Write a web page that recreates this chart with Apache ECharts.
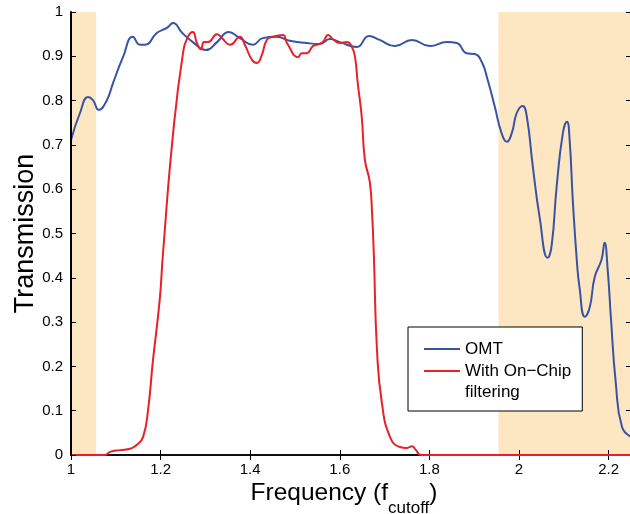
<!DOCTYPE html>
<html>
<head>
<meta charset="utf-8">
<script src="https://cdn.jsdelivr.net/npm/echarts@6/dist/echarts.min.js"></script>
<style>
  html, body { margin: 0; padding: 0; background: #fff; }
  #chart { width: 630px; height: 514px; }
</style>
</head>
<body>
<div id="chart"></div>
<script>
// OMT 透射曲线
const omtFreq = [1.000, 1.020, 1.038, 1.049, 1.062, 1.080, 1.094, 1.116, 1.138, 1.154, 1.165, 1.192, 1.214, 1.228,
  1.248, 1.272, 1.301, 1.326, 1.352, 1.377, 1.406, 1.428, 1.459, 1.488, 1.526, 1.555, 1.578, 1.600, 1.638,
  1.665, 1.689, 1.723, 1.761, 1.801, 1.839, 1.861, 1.883, 1.901, 1.917, 1.930, 1.946, 1.961, 1.973, 1.984,
  1.995, 2.008, 2.017, 2.031, 2.046, 2.064, 2.073, 2.084, 2.098, 2.107, 2.113, 2.120, 2.129, 2.135, 2.147,
  2.158, 2.169, 2.184, 2.191, 2.198, 2.205, 2.216, 2.230, 2.250]
const omtT = [0.711, 0.772, 0.808, 0.801, 0.779, 0.801, 0.840, 0.898, 0.944, 0.926, 0.926, 0.953, 0.964, 0.975,
  0.953, 0.932, 0.914, 0.932, 0.955, 0.941, 0.926, 0.941, 0.944, 0.935, 0.930, 0.928, 0.939, 0.932, 0.921,
  0.946, 0.937, 0.923, 0.937, 0.923, 0.932, 0.930, 0.907, 0.905, 0.887, 0.847, 0.786, 0.727, 0.707, 0.727,
  0.772, 0.788, 0.767, 0.650, 0.537, 0.445, 0.474, 0.605, 0.727, 0.752, 0.711, 0.576, 0.440, 0.379, 0.312,
  0.334, 0.402, 0.440, 0.479, 0.418, 0.312, 0.163, 0.063, 0.041]

// 加片上滤波后的曲线
const filtFreq = [1.000, 1.030, 1.060, 1.076, 1.087, 1.109, 1.132, 1.147, 1.161, 1.172, 1.183, 1.198, 1.205, 1.228, 1.250,
  1.261, 1.272, 1.281, 1.290, 1.297, 1.306, 1.326, 1.337, 1.355, 1.377, 1.388, 1.404, 1.415, 1.426, 1.437,
  1.451, 1.473, 1.482, 1.507, 1.515, 1.526, 1.540, 1.549, 1.562, 1.574, 1.584, 1.600, 1.616, 1.627, 1.634,
  1.640, 1.649, 1.656, 1.667, 1.672, 1.676, 1.683, 1.694, 1.712, 1.734, 1.750, 1.761, 1.770, 1.781, 2.250]
const filtT = [0, 0, 0, 0, 0.007, 0.011, 0.014, 0.023, 0.041, 0.102, 0.214, 0.350, 0.451, 0.727, 0.907,
  0.944, 0.955, 0.930, 0.916, 0.932, 0.932, 0.950, 0.941, 0.926, 0.944, 0.926, 0.892, 0.885, 0.903, 0.937,
  0.944, 0.948, 0.930, 0.898, 0.907, 0.907, 0.923, 0.926, 0.932, 0.948, 0.939, 0.930, 0.932, 0.921, 0.898,
  0.840, 0.763, 0.666, 0.616, 0.546, 0.451, 0.237, 0.117, 0.041, 0.018, 0.016, 0.020, 0.011, 0, 0]

// 阴影频段
const bands = [[1.0, 1.056], [1.954, 2.25]]

const xTicks = [1, 1.2, 1.4, 1.6, 1.8, 2, 2.2]

const chart = echarts.init(document.getElementById('chart'))

const font = '"Liberation Sans", Arial, Helvetica, sans-serif'
const axisLine = { lineStyle: { color: '#000', width: 1.5 } }
const tick = { inside: true, length: 5, lineStyle: { color: '#000', width: 1 } }

chart.setOption({
  animation: false,
  textStyle: { fontFamily: font },
  grid: { left: 71, top: 12, width: 560, height: 443, outerBoundsMode: 'none', containLabel: false },
  legend: {
    left: 408,
    top: 327,
    orient: 'vertical',
    icon: 'rect',
    itemGap: 0,
    itemWidth: 36,
    itemHeight: 2,
    padding: [11, 11, 29, 16],
    backgroundColor: '#fff',
    borderColor: '#000',
    borderWidth: 1,
    borderRadius: 0,
    textStyle: { fontSize: 17, lineHeight: 22, color: '#000', fontFamily: font },
    data: ['OMT', 'With On−Chip']
  },
  graphic: [
    {
      type: 'text', z: 100, left: 465, top: 384,
      style: { text: 'filtering', fontSize: 17, fontFamily: font, fill: '#000' }
    },
    {
      type: 'rect', z: 1, shape: { x: 77.5, y: 401.5, width: 72, height: 46 },
      style: { fill: 'none', stroke: 'rgba(255,255,255,0.9)', lineWidth: 1 }
    }
  ],
  xAxis: [
    {
      type: 'value', min: 1, max: 2.25, interval: 0.2, z: 1,
      name: '{m|Frequency (f}{s|cutoff}{e|)}',
      nameLocation: 'middle', nameGap: 15, nameMoveOverlap: false,
      nameTextStyle: {
        rich: {
          m: { fontSize: 24.5, fontFamily: font, color: '#000' },
          s: { fontSize: 17, fontFamily: font, color: '#000', padding: [30, 0, 0, 0] },
          e: { fontSize: 24.5, fontFamily: font, color: '#000', padding: [0, 14, 0, 0] }
        }
      },
      axisLine: axisLine, axisTick: tick, splitLine: { show: false },
      axisLabel: {
        fontSize: 15, color: '#000', margin: 7,
        formatter: v => xTicks.some(t => Math.abs(t - v) < 1e-6) ? String(+v.toFixed(1)) : ''
      }
    },
    {
      type: 'value', min: 1, max: 2.25, interval: 0.2, position: 'top', z: 1,
      axisLine: axisLine, axisTick: tick, splitLine: { show: false }, axisLabel: { show: false }
    }
  ],
  yAxis: [
    {
      type: 'value', min: 0, max: 1, interval: 0.1, z: 5,
      name: 'Transmission', nameLocation: 'middle', nameGap: 32, nameMoveOverlap: false,
      nameTextStyle: { fontSize: 27, color: '#000', fontFamily: font },
      axisLine: { lineStyle: { color: '#000', width: 2 } }, axisTick: tick, splitLine: { show: false },
      axisLabel: { fontSize: 15, color: '#000', margin: 8, formatter: v => String(+v.toFixed(1)) }
    },
    {
      type: 'value', min: 0, max: 1, interval: 0.1, position: 'right', z: 1,
      axisLine: axisLine, axisTick: tick, splitLine: { show: false }, axisLabel: { show: false }
    }
  ],
  series: [
    {
      name: 'bands', type: 'line', z: 0, data: [], silent: true,
      markArea: {
        silent: true,
        itemStyle: { color: '#fde6c2', opacity: 1 },
        data: bands.map(b => [{ xAxis: b[0] }, { xAxis: b[1] }])
      }
    },
    {
      name: 'OMT', type: 'line', z: 3, symbol: 'none', smooth: 0.5, clip: false,
      lineStyle: { color: '#3953a4', width: 2 }, itemStyle: { color: '#3953a4' },
      data: omtFreq.map((f, i) => [f, omtT[i]])
    },
    {
      name: 'With On−Chip', type: 'line', z: 4, symbol: 'none', smooth: 0.5, clip: false,
      lineStyle: { color: '#e8202a', width: 2 }, itemStyle: { color: '#e8202a' },
      data: filtFreq.map((f, i) => [f, filtT[i]])
    }
  ]
})
</script>
</body>
</html>
